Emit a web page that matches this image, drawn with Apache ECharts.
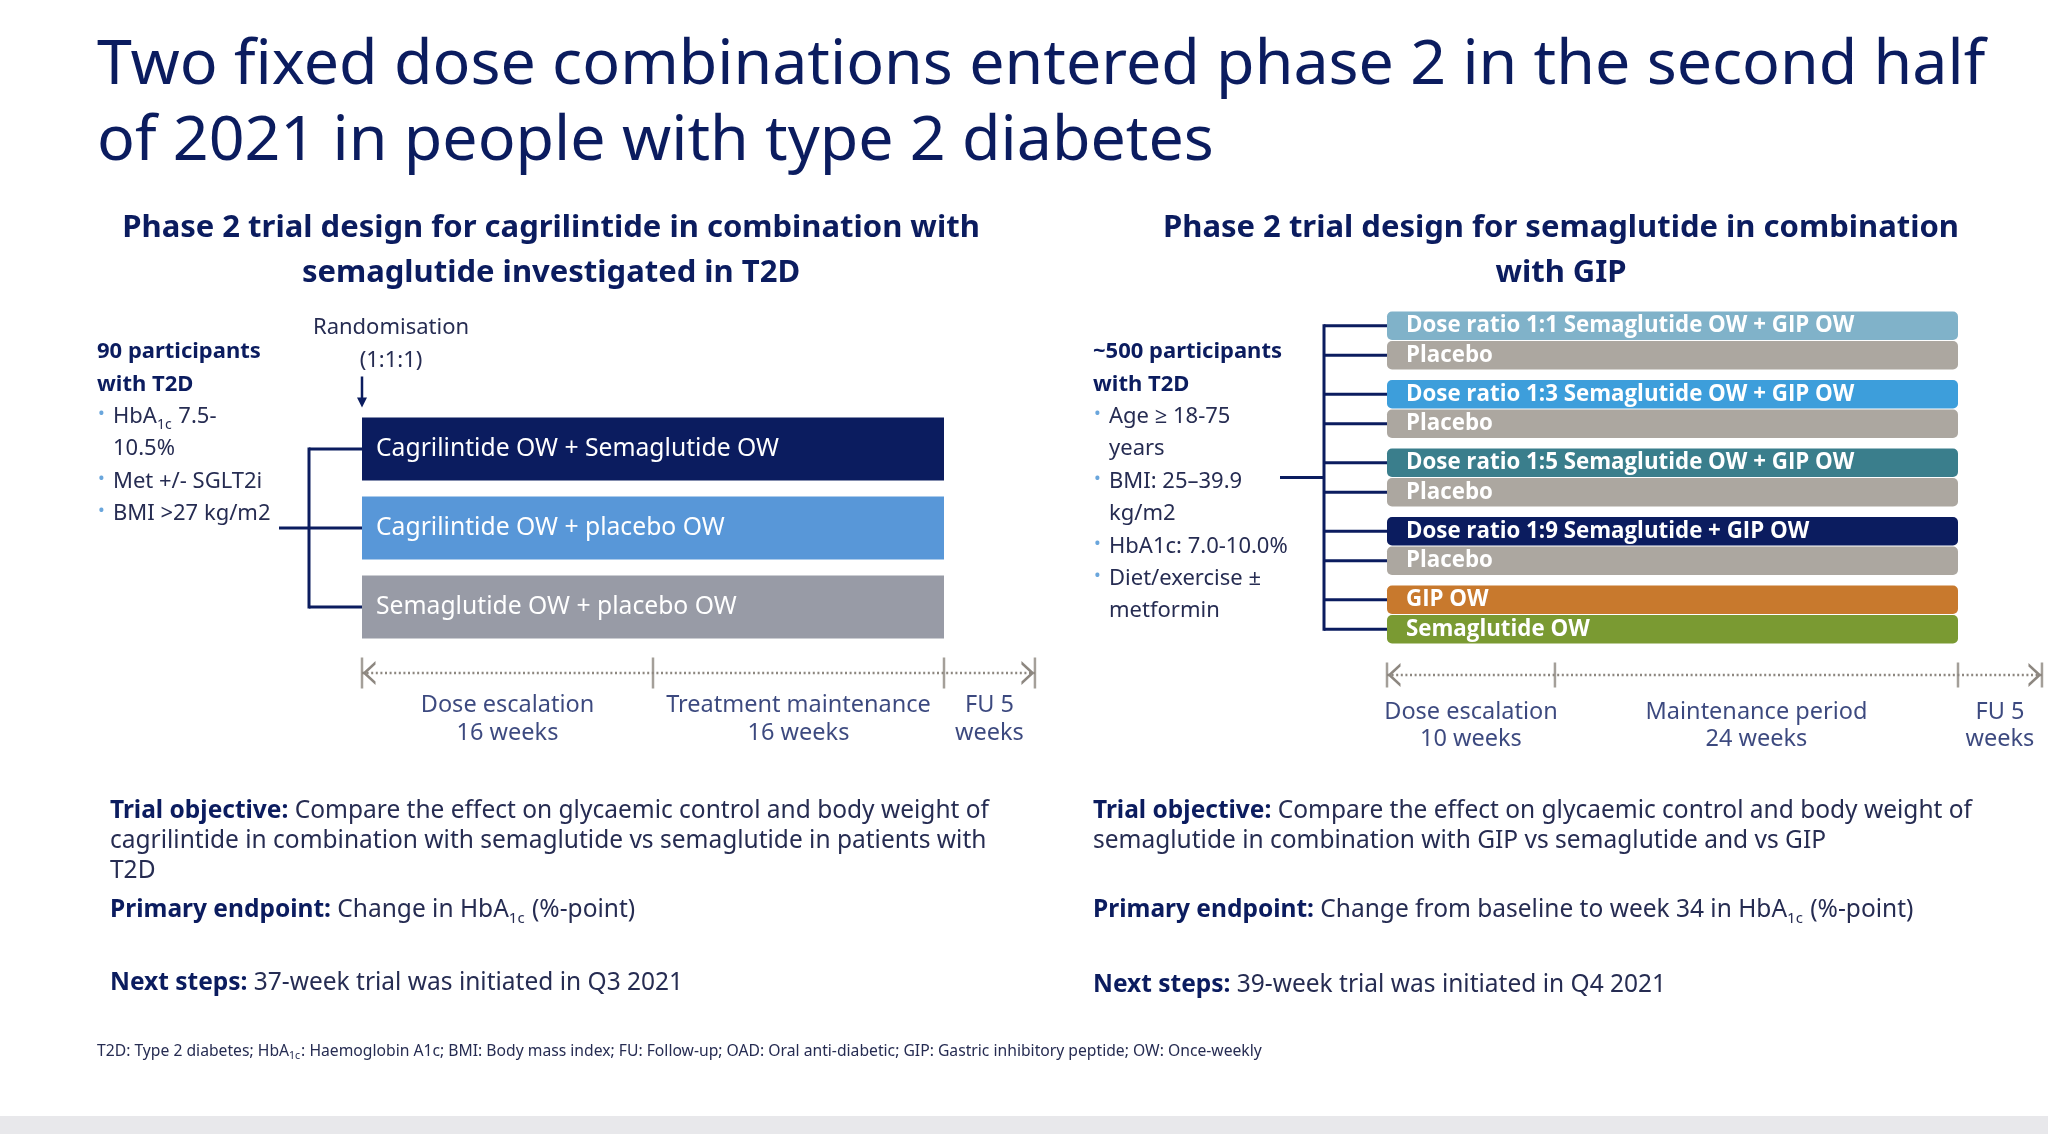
<!DOCTYPE html>
<html>
<head>
<meta charset="utf-8">
<title>Phase 2 trial designs</title>
<script src="https://cdn.jsdelivr.net/npm/echarts@6.0.0/dist/echarts.min.js"></script>
<style>
  html, body { margin: 0; padding: 0; background: #fff; }
  #chart { width: 2048px; height: 1134px; }
</style>
</head>
<body>
<div id="chart"></div>
<script>
/* ===== Data ===== */
const titleLines = [
    'Two fixed dose combinations entered phase 2 in the second half',
    'of 2021 in people with type 2 diabetes'
];

// Left trial: cagrilintide + semaglutide
const leftSubtitle = ['Phase 2 trial design for cagrilintide in combination with', 'semaglutide investigated in T2D'];
const leftArms = ['Cagrilintide OW + Semaglutide OW', 'Cagrilintide OW + placebo OW', 'Semaglutide OW + placebo OW'];
const leftArmWeeks = [32, 32, 32];
const leftArmColors = ['#0b1c5f', '#5897d8', '#989ba6'];
const leftPhaseWeeks = [16, 16, 5];
const leftPhaseLabels = ['Dose escalation\n16 weeks', 'Treatment maintenance\n16 weeks', 'FU 5\nweeks'];
const leftHeader = ['90 participants', 'with T2D'];
const leftCriteria = [['HbA{s|1c} 7.5-', '10.5%'], ['Met +/- SGLT2i'], ['BMI >27 kg/m2']];
const leftNotes = [
    ['{b|Trial objective:} Compare the effect on glycaemic control and body weight of',
     'cagrilintide in combination with semaglutide vs semaglutide in patients with',
     'T2D'],
    ['{b|Primary endpoint:} Change in HbA{s|1c} (%-point)'],
    ['{b|Next steps:} 37-week trial was initiated in Q3 2021']
];

// Right trial: semaglutide + GIP
const rightSubtitle = ['Phase 2 trial design for semaglutide in combination', 'with GIP'];
const rightPairs = ['1:1', '1:3', '1:5', '1:9', 'mono'];
const rightArms = [
    'Dose ratio 1:1 Semaglutide OW + GIP OW',
    'Dose ratio 1:3 Semaglutide OW + GIP OW',
    'Dose ratio 1:5 Semaglutide OW + GIP OW',
    'Dose ratio 1:9 Semaglutide + GIP OW',
    'GIP OW'
];
const rightArmWeeks = [34, 34, 34, 34, 34];
const rightArmColors = ['#80b2c9', '#3d9edb', '#3a7e8c', '#0b1c5f', '#c8792d'];
const rightComparators = ['Placebo', 'Placebo', 'Placebo', 'Placebo', 'Semaglutide OW'];
const rightComparatorWeeks = [34, 34, 34, 34, 34];
const rightComparatorColors = ['#aca7a0', '#aca7a0', '#aca7a0', '#aca7a0', '#7a9a32'];
const rightPhaseWeeks = [10, 24, 5];
const rightPhaseLabels = ['Dose escalation\n10 weeks', 'Maintenance period\n24 weeks', 'FU 5\nweeks'];
const rightHeader = ['~500 participants', 'with T2D'];
const rightCriteria = [['Age ≥ 18-75', 'years'], ['BMI: 25–39.9', 'kg/m2'], ['HbA1c: 7.0-10.0%'], ['Diet/exercise ±', 'metformin']];
const rightNotes = [
    ['{b|Trial objective:} Compare the effect on glycaemic control and body weight of',
     'semaglutide in combination with GIP vs semaglutide and vs GIP'],
    ['{b|Primary endpoint:} Change from baseline to week 34 in HbA{s|1c} (%-point)'],
    ['{b|Next steps:} 39-week trial was initiated in Q4 2021']
];

const footnote = 'T2D: Type 2 diabetes; HbA{s|1c}: Haemoglobin A1c; BMI: Body mass index; FU: Follow-up; OAD: Oral anti-diabetic; GIP: Gastric inhibitory peptide; OW: Once-weekly';

/* ===== Styles ===== */
const NAVY = '#0b1c5f';
const BODY = '#262c52';
const GREY = '#8d8780';
const BULLET = '#6aa6dc';
const FONT = "'Noto Sans', 'Open Sans', sans-serif";
const BAR_FONT = "'Open Sans', 'Noto Sans', sans-serif";

const sum = a => a.reduce((s, v) => s + v, 0);
const cumulative = a => a.reduce((acc, v) => { acc.push(acc[acc.length - 1] + v); return acc; }, [0]);
const midpoints = a => { const c = cumulative(a); return a.map((v, i) => (c[i] + c[i + 1]) / 2); };

// pixel layout
const L = { left: 362, pxPerWeek: 582 / 32, barsTop: 409.5, band: 79, barH: 63, lineY: 673 };
const R = { left: 1387, pxPerWeek: 571 / 34, barsTop: 306.25, band: 68.5, barH: 28.5, lineY: 675 };
const R_GAP = 0.04;

/* ===== Text helpers ===== */
// subscript token: small line box aligned to the bottom of a taller line
const subStyle = size => ({ fill: BODY, fontSize: size, lineHeight: size, fontFamily: FONT, verticalAlign: 'bottom', padding: [0, 1, 0, 0] });

function text(x, y, str, o) {
    return {
        type: 'text', x: x, y: y, silent: true,
        style: Object.assign({
            text: str, fill: BODY, fontSize: 22, fontFamily: FONT,
            verticalAlign: 'middle', align: 'left',
            rich: {
                b: { fill: NAVY, fontWeight: 'bold', fontSize: 24.5, fontFamily: FONT },
                s: subStyle(15)
            }
        }, o || {})
    };
}

function criteriaBlock(x, y0, header, criteria) {
    const step = 32.4;
    const out = [];
    let y = y0;
    header.forEach(h => { out.push(text(x, y, h, { fill: NAVY, fontWeight: 'bold' })); y += step; });
    criteria.forEach(lines => {
        out.push(text(x + 1, y - 3, '•', { fill: BULLET, fontSize: 18 }));
        lines.forEach(l => {
            out.push(text(x + 16, y, l, { lineHeight: 30, rich: { s: subStyle(14) } }));
            y += step;
        });
    });
    return out;
}

function notesBlock(x, rows, ys) {
    const out = [];
    rows.forEach((lines, r) => {
        lines.forEach((l, i) => {
            out.push(text(x, ys[r] + i * 30, l, { fontSize: 24.5, lineHeight: 32 }));
        });
    });
    return out;
}

/* ===== Series builders ===== */
function timelineSeries(idx, phaseWeeks, phaseLabels, tickLen, labelOffset, lineH) {
    const bounds = cumulative(phaseWeeks);
    const end = bounds[bounds.length - 1];
    return [
        {
            type: 'line', xAxisIndex: idx, yAxisIndex: idx, silent: true, z: 2,
            data: [
                { value: [0, 0], symbol: 'path://M12,0 L0,12 L12,24 L12,20.5 L3.6,12 L12,3.5 Z', symbolOffset: [7, 0] },
                { value: [end, 0], symbol: 'path://M0,0 L12,12 L0,24 L0,20.5 L8.4,12 L0,3.5 Z', symbolOffset: [-7, 0] }
            ],
            symbolSize: [13, 24], showSymbol: true, showAllSymbol: true,
            itemStyle: { color: GREY },
            lineStyle: { color: GREY, width: 2.5, type: [2, 2.6] },
            emphasis: { disabled: true }
        },
        {
            type: 'scatter', xAxisIndex: idx, yAxisIndex: idx, silent: true, z: 3,
            data: bounds.map(b => [b, 0]),
            symbol: 'rect', symbolSize: [2.5, tickLen],
            itemStyle: { color: GREY },
            emphasis: { disabled: true }
        },
        {
            type: 'scatter', xAxisIndex: idx, yAxisIndex: idx, silent: true,
            data: midpoints(phaseWeeks).map((m, i) => ({ value: [m, 0], name: phaseLabels[i] })),
            symbolSize: 0,
            label: {
                show: true, position: 'inside', offset: [0, labelOffset],
                formatter: p => p.name, color: NAVY, fontSize: 23.5, fontFamily: FONT,
                lineHeight: lineH, align: 'center'
            },
            emphasis: { disabled: true }
        }
    ];
}

function line(x1, y1, x2, y2) {
    return { type: 'line', shape: { x1, y1, x2, y2 }, style: { stroke: NAVY, lineWidth: 3 } };
}

/* ===== Chart ===== */
const chart = echarts.init(document.getElementById('chart'), null, { renderer: 'canvas' });

const leftTotal = sum(leftPhaseWeeks);
const rightTotal = sum(rightPhaseWeeks);

const grid = [
    { left: L.left, top: L.barsTop, width: leftTotal * L.pxPerWeek, height: L.band * leftArms.length },
    { left: L.left, top: L.lineY - 22, width: leftTotal * L.pxPerWeek, height: 44 },
    { left: R.left, top: R.barsTop, width: rightTotal * R.pxPerWeek, height: R.band * rightPairs.length },
    { left: R.left, top: R.lineY - 22, width: rightTotal * R.pxPerWeek, height: 44 }
];

const xAxis = [leftTotal, leftTotal, rightTotal, rightTotal].map((max, i) => ({
    type: 'value', gridIndex: i, min: 0, max: max, show: false
}));
const yAxis = [
    { type: 'category', gridIndex: 0, data: leftArms, inverse: true, show: false },
    { type: 'value', gridIndex: 1, min: -1, max: 1, show: false },
    { type: 'category', gridIndex: 2, data: rightPairs, inverse: true, show: false },
    { type: 'value', gridIndex: 3, min: -1, max: 1, show: false }
];

const rightOffset = R.barH * (1 + R_GAP) / 2;

const series = [
    // left arms
    {
        type: 'bar', xAxisIndex: 0, yAxisIndex: 0, barWidth: L.barH, silent: true,
        data: leftArms.map((name, i) => ({ value: leftArmWeeks[i], name, itemStyle: { color: leftArmColors[i] } })),
        label: {
            show: true, position: 'insideLeft', distance: 14, formatter: p => p.name,
            color: '#fff', fontSize: 24.7, fontFamily: FONT
        },
        emphasis: { disabled: true }
    },
    // left randomisation bracket
    {
        type: 'custom', xAxisIndex: 0, yAxisIndex: 0, silent: true, clip: false,
        data: leftArms.map((_, i) => [0, i]),
        encode: { x: 0, y: 1 },
        renderItem(params, api) {
            const p = api.coord([api.value(0), api.value(1)]);
            const stub = 53, feed = 30;
            const children = [line(p[0] - stub, p[1], p[0], p[1])];
            if (params.dataIndex === 0) {
                const last = api.coord([0, leftArms.length - 1]);
                const midY = (p[1] + last[1]) / 2;
                const top = p[1] - L.barH / 2;
                children.push(line(p[0] - stub, p[1] - 1.5, p[0] - stub, last[1] + 1.5));
                children.push(line(p[0] - stub - feed, midY, p[0] - stub, midY));
                children.push({ type: 'line', shape: { x1: p[0], y1: top - 41, x2: p[0], y2: top - 18 }, style: { stroke: NAVY, lineWidth: 2.5 } });
                children.push({ type: 'polygon', shape: { points: [[p[0] - 5, top - 20], [p[0] + 5, top - 20], [p[0], top - 10]] }, style: { fill: NAVY } });
                children.push({ type: 'text', style: { text: 'Randomisation', x: p[0] + 29, y: top - 90, align: 'center', verticalAlign: 'middle', fill: BODY, fontSize: 22, fontFamily: FONT } });
                children.push({ type: 'text', style: { text: '(1:1:1)', x: p[0] + 29, y: top - 57, align: 'center', verticalAlign: 'middle', fill: BODY, fontSize: 22, fontFamily: FONT } });
            }
            return { type: 'group', children };
        }
    },
    ...timelineSeries(1, leftPhaseWeeks, leftPhaseLabels, 31, 46, 28),

    // right arms (top of each pair) and comparators (bottom of each pair)
    {
        type: 'bar', xAxisIndex: 2, yAxisIndex: 2, barWidth: R.barH, barGap: (R_GAP * 100) + '%', silent: true,
        data: rightArms.map((name, i) => ({ value: rightArmWeeks[i], name, itemStyle: { color: rightArmColors[i] } })),
        itemStyle: { borderRadius: 5 },
        label: {
            show: true, position: 'insideLeft', distance: 19, formatter: p => p.name,
            color: '#fff', fontSize: 22.3, fontWeight: 'bold', fontFamily: BAR_FONT
        },
        emphasis: { disabled: true }
    },
    {
        type: 'bar', xAxisIndex: 2, yAxisIndex: 2, barWidth: R.barH, barGap: (R_GAP * 100) + '%', silent: true,
        data: rightComparators.map((name, i) => ({ value: rightComparatorWeeks[i], name, itemStyle: { color: rightComparatorColors[i] } })),
        itemStyle: { borderRadius: 5 },
        label: {
            show: true, position: 'insideLeft', distance: 19, formatter: p => p.name,
            color: '#fff', fontSize: 22.3, fontWeight: 'bold', fontFamily: BAR_FONT
        },
        emphasis: { disabled: true }
    },
    // right randomisation bracket
    {
        type: 'custom', xAxisIndex: 2, yAxisIndex: 2, silent: true, clip: false,
        data: rightPairs.flatMap((_, i) => [[0, i, 0], [0, i, 1]]),
        encode: { x: 0, y: 1 },
        renderItem(params, api) {
            const c = api.coord([api.value(0), api.value(1)]);
            const y = c[1] + (api.value(2) ? 1 : -1) * rightOffset;
            const stub = 63, feed = 44;
            const children = [line(c[0] - stub, y, c[0], y)];
            if (params.dataIndex === 0) {
                const lastY = api.coord([0, rightPairs.length - 1])[1] + rightOffset;
                const midY = (y + lastY) / 2;
                children.push(line(c[0] - stub, y - 1.5, c[0] - stub, lastY + 1.5));
                children.push(line(c[0] - stub - feed, midY, c[0] - stub, midY));
            }
            return { type: 'group', children };
        }
    },
    ...timelineSeries(3, rightPhaseWeeks, rightPhaseLabels, 25, 51, 27)
];

const titleStyle = { fontSize: 62.7, fill: NAVY };
const headStyle = { fontSize: 31, fontWeight: 'bold', fill: NAVY, align: 'center' };

const graphic = [
    text(97, 66, titleLines[0], titleStyle),
    text(97, 142, titleLines[1], titleStyle),
    text(551, 228, leftSubtitle[0], headStyle),
    text(551, 273, leftSubtitle[1], headStyle),
    text(1561, 228, rightSubtitle[0], headStyle),
    text(1561, 273, rightSubtitle[1], headStyle),
    ...criteriaBlock(97, 352, leftHeader, leftCriteria),
    ...criteriaBlock(1093, 352, rightHeader, rightCriteria),
    ...notesBlock(110, leftNotes, [811, 910, 983]),
    ...notesBlock(1093, rightNotes, [811, 910, 985]),
    text(97, 1052, footnote, { fontSize: 15.7, lineHeight: 20, rich: { s: subStyle(10.5) } }),
    { type: 'rect', silent: true, shape: { x: 0, y: 1116, width: 2048, height: 18 }, style: { fill: '#e8e8eb' } }
];

chart.setOption({
    backgroundColor: '#fff',
    animation: false,
    grid, xAxis, yAxis, series, graphic
});
window.addEventListener('resize', () => chart.resize());
</script>
</body>
</html>
